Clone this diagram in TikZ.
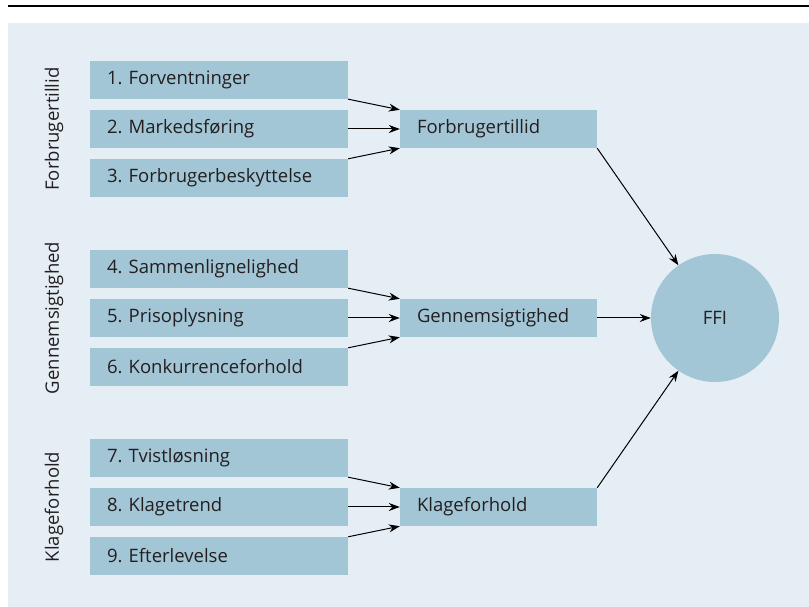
\documentclass[tikz,border=0pt]{standalone}
\usepackage{fontspec}
\setmainfont{Open Sans}
\usetikzlibrary{arrows.meta, positioning}
\definecolor{panelbg}{HTML}{E6EEF5}
\definecolor{boxfill}{HTML}{A3C6D6}
\definecolor{txt}{HTML}{231F20}
\frenchspacing

\begin{document}
\begin{tikzpicture}[x=1pt,y=1pt,font=\fontsize{18.5}{22}\selectfont]
    \tikzstyle{inbox} = [rectangle, fill=boxfill, text=txt, text width=224pt,
        inner xsep=17pt, inner ysep=0pt, minimum height=38pt, align=left]
    \tikzstyle{midbox} = [inbox, text width=163pt]
    \tikzstyle{side} = [text=txt, rotate=90]
    \tikzstyle{line} = [draw, -{Stealth[length=11pt,width=8pt]}, line width=1pt]

    \useasboundingbox (0,0) rectangle (809,607);
    \fill [panelbg] (8,0) rectangle (809,584);
    \draw [line width=1.2pt] (8,601) -- (809,601);

    \node [inbox] (b1) at (219,527) {1. Forventninger};
    \node [inbox, below of=b1, node distance=49pt] (b2) {2. Markedsføring};
    \node [inbox, below of=b2, node distance=49pt] (b3) {3. Forbrugerbeskyttelse};
    \node [midbox, right of=b2, node distance=279.5pt] (m1) {Forbrugertillid};
    \coordinate [left of=b2, node distance=165pt] (c1);
    \node [side] (s1) at (c1) {Forbrugertillid};
    \path [line] (b1.south east) -- (m1.north west);
    \path [line] (b2) -- (m1);
    \path [line] (b3.north east) -- (m1.south west);
    %
    \node [inbox, below of=b3, node distance=91pt] (b4) {4. Sammenlignelighed};
    \node [inbox, below of=b4, node distance=49pt] (b5) {5. Prisoplysning};
    \node [inbox, below of=b5, node distance=49pt] (b6) {6. Konkurrenceforhold};
    \node [midbox, right of=b5, node distance=279.5pt] (m2) {Gennemsigtighed};
    \coordinate [left of=b5, node distance=165pt] (c2);
    \node [side] (s2) at (c2) {Gennemsigtighed};
    \path [line] (b4.south east) -- (m2.north west);
    \path [line] (b5) -- (m2);
    \path [line] (b6.north east) -- (m2.south west);
    %
    \node [inbox, below of=b6, node distance=91pt] (b7) {7. Tvistløsning};
    \node [inbox, below of=b7, node distance=49pt] (b8) {8. Klagetrend};
    \node [inbox, below of=b8, node distance=49pt] (b9) {9. Efterlevelse};
    \node [midbox, right of=b8, node distance=279.5pt] (m3) {Klageforhold};
    \coordinate [left of=b8, node distance=165pt] (c3);
    \node [side] (s3) at (c3) {Klageforhold};
    \path [line] (b7.south east) -- (m3.north west);
    \path [line] (b8) -- (m3);
    \path [line] (b9.north east) -- (m3.south west);
    %
    \node [circle, fill=boxfill, text=txt, minimum size=128pt, inner sep=0pt,
        right of=m2, node distance=216.5pt] (ffi) {FFI};
    \path [line] (m1.south east) -- (ffi);
    \path [line] (m2) -- (ffi);
    \path [line] (m3.north east) -- (ffi);

\end{tikzpicture}
\end{document}
